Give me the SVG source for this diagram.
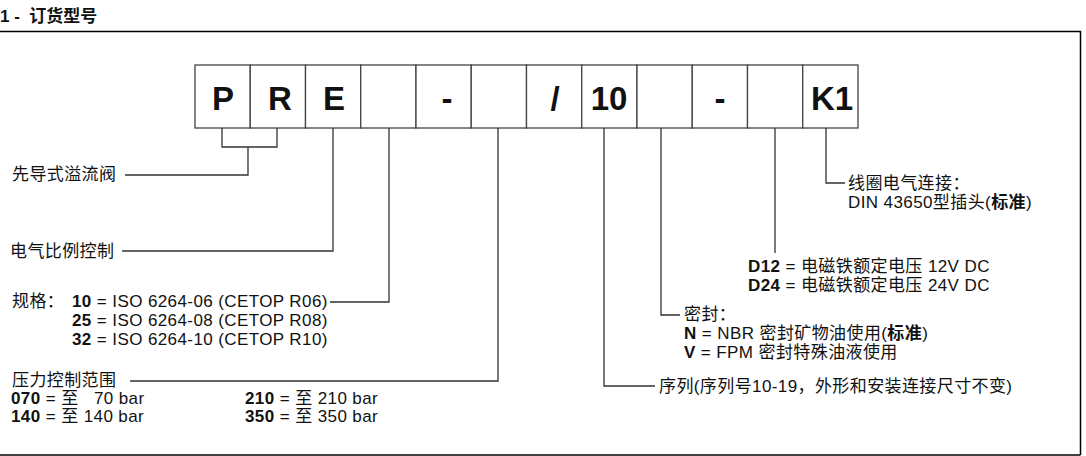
<svg xmlns="http://www.w3.org/2000/svg" width="1086" height="456" viewBox="0 0 1086 456">
<style>
text{font-family:"Liberation Sans","Noto Sans CJK SC",sans-serif;fill:#111;white-space:pre}
.t{font-size:17px;letter-spacing:0.4px}
.b{font-weight:bold}
.code{font-size:33px;font-weight:bold;text-anchor:middle}
.box{fill:#fff;stroke:#444;stroke-width:1.3}
.c{fill:none;stroke:#333;stroke-width:1.3}
</style>
<rect width="1086" height="456" fill="#fff"/>
<g id="frame" fill="none" stroke="#000" stroke-width="1.5">
<path d="M0 31.5H1080.5V455"/><path d="M0 455H1080.5"/>
</g>
<text x="0" y="22" class="b" font-size="17">1 -  订货型号</text>
<g id="code-boxes">
<rect class="box" x="195" y="65" width="55.25" height="63"/>
<rect class="box" x="250.25" y="65" width="55.25" height="63"/>
<rect class="box" x="305.5" y="65" width="55.25" height="63"/>
<rect class="box" x="360.75" y="65" width="55.25" height="63"/>
<rect class="box" x="416" y="65" width="55.25" height="63"/>
<rect class="box" x="471.25" y="65" width="55.25" height="63"/>
<rect class="box" x="526.5" y="65" width="55.25" height="63"/>
<rect class="box" x="581.75" y="65" width="55.25" height="63"/>
<rect class="box" x="637" y="65" width="55.25" height="63"/>
<rect class="box" x="692.25" y="65" width="55.25" height="63"/>
<rect class="box" x="747.5" y="65" width="55.25" height="63"/>
<rect class="box" x="802.75" y="65" width="55.25" height="63"/>
<text class="code" x="223" y="110">P</text>
<text class="code" x="280" y="110">R</text>
<text class="code" x="334" y="110">E</text>
<text class="code" x="447" y="110">-</text>
<text class="code" x="555" y="110">/</text>
<text class="code" x="609" y="110">10</text>
<text class="code" x="720" y="110">-</text>
<text class="code" x="832" y="110">K1</text>
</g>
<g id="connectors">
<path class="c" d="M222 128V147H277V128M248 147V175H125"/>
<path class="c" d="M333 128V251H122"/>
<path class="c" d="M389 128V302H330"/>
<path class="c" d="M498 128V381H130"/>
<path class="c" d="M604 128V386H655"/>
<path class="c" d="M661 128V315H680"/>
<path class="c" d="M775 128V253"/>
<path class="c" d="M826 128V183H845"/>
</g>
<g id="n-valve"><text class="t" x="12" y="180">先导式溢流阀</text></g>
<g id="n-prop"><text class="t" x="10" y="257">电气比例控制</text></g>
<g id="n-size">
<text class="t" x="12" y="307">规格：</text>
<text class="t" x="72" y="307"><tspan class="b">10</tspan> = ISO 6264-06 (CETOP R06)</text>
<text class="t" x="72" y="326"><tspan class="b">25</tspan> = ISO 6264-08 (CETOP R08)</text>
<text class="t" x="72" y="345"><tspan class="b">32</tspan> = ISO 6264-10 (CETOP R10)</text>
</g>
<g id="n-pressure">
<text class="t" x="12" y="386">压力控制范围</text>
<text class="t" x="11" y="404"><tspan class="b">070</tspan> = 至   70 bar</text>
<text class="t" x="11" y="422"><tspan class="b">140</tspan> = 至 140 bar</text>
<text class="t" x="245" y="404"><tspan class="b">210</tspan> = 至 210 bar</text>
<text class="t" x="245" y="422"><tspan class="b">350</tspan> = 至 350 bar</text>
</g>
<g id="n-series"><text class="t" x="659" y="392">序列(序列号10-19，外形和安装连接尺寸不变)</text></g>
<g id="n-seal">
<text class="t" x="684" y="320">密封：</text>
<text class="t" x="684" y="339"><tspan class="b">N</tspan> = NBR 密封矿物油使用(<tspan class="b">标准</tspan>)</text>
<text class="t" x="684" y="358"><tspan class="b">V</tspan> = FPM 密封特殊油液使用</text>
</g>
<g id="n-voltage">
<text class="t" x="748" y="272"><tspan class="b">D12</tspan> = 电磁铁额定电压 12V DC</text>
<text class="t" x="748" y="291"><tspan class="b">D24</tspan> = 电磁铁额定电压 24V DC</text>
</g>
<g id="n-conn">
<text class="t" x="848" y="189">线圈电气连接：</text>
<text class="t" x="848" y="208">DIN 43650型插头(<tspan class="b">标准</tspan>)</text>
</g>
</svg>
